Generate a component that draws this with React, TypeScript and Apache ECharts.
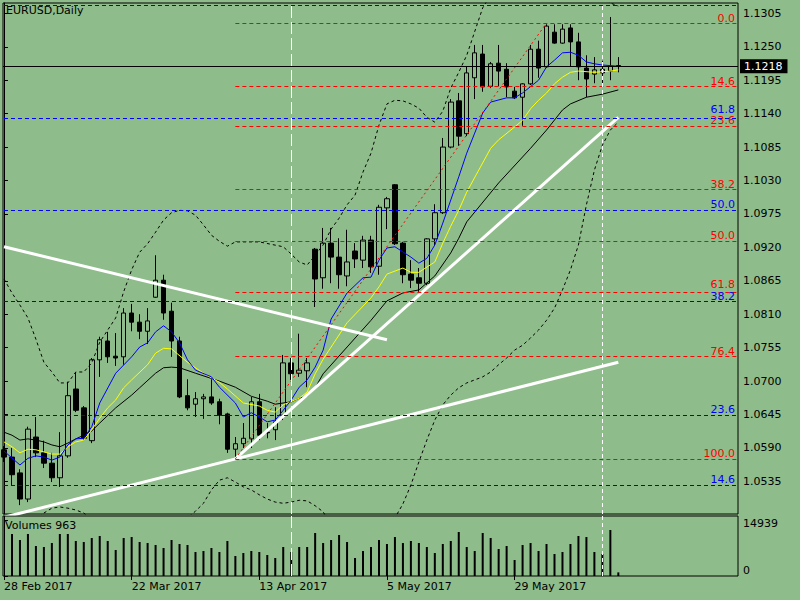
import React, { useEffect, useRef } from 'react';
import * as echarts from 'echarts';

// ---- candles (bar index 0 = 28 Feb 2017, one bar per trading day) ----
const opens = [
  1.0587, 1.0575, 1.0549, 1.0506, 1.0608, 1.0582, 1.0565, 1.0541, 1.0577, 1.0687,
  1.0656, 1.0602, 1.0735, 1.0766, 1.0741, 1.0740, 1.0812, 1.0797, 1.0782, 1.0838,
  1.0866, 1.0815, 1.0766, 1.0676, 1.0662, 1.0671, 1.0674, 1.0666, 1.0646, 1.0588,
  1.0597, 1.0605, 1.0666, 1.0616, 1.0620, 1.0644, 1.0730, 1.0713, 1.0717, 1.0917,
  1.0870, 1.0927, 1.0904, 1.0873, 1.0914, 1.0899, 1.0932, 1.0889, 1.0985, 1.1023,
  1.0927, 1.0876, 1.0870, 1.0861, 1.0934, 1.0977, 1.1085, 1.1161, 1.1107, 1.1199,
  1.1238, 1.1185, 1.1223, 1.1213, 1.1177, 1.1167, 1.1189, 1.1246, 1.1217, 1.1274,
  1.1256, 1.1281, 1.1258, 1.1215, 1.1205, 1.1207, 1.1210, 1.1219,
];
const closes = [
  1.0575, 1.0546, 1.0506, 1.0621, 1.0582, 1.0565, 1.0541, 1.0577, 1.0676, 1.0652,
  1.0606, 1.0735, 1.0768, 1.0740, 1.0738, 1.0812, 1.0797, 1.0782, 1.0799, 1.0866,
  1.0812, 1.0766, 1.0674, 1.0656, 1.0671, 1.0674, 1.0664, 1.0644, 1.0588, 1.0597,
  1.0606, 1.0666, 1.0611, 1.0615, 1.0633, 1.0730, 1.0712, 1.0718, 1.0730, 1.0868,
  1.0927, 1.0904, 1.0875, 1.0896, 1.0901, 1.0932, 1.0888, 1.0986, 1.1000, 1.0926,
  1.0875, 1.0866, 1.0861, 1.0934, 1.0977, 1.1085, 1.1159, 1.1103, 1.1207, 1.1240,
  1.1184, 1.1222, 1.1210, 1.1184, 1.1166, 1.1189, 1.1246, 1.1215, 1.1284, 1.1256,
  1.1279, 1.1258, 1.1217, 1.1197, 1.1212, 1.1213, 1.1218, 1.1218,
];
const lows = [
  1.0567, 1.0529, 1.0496, 1.0501, 1.0575, 1.0557, 1.0534, 1.0526, 1.0574, 1.0649,
  1.0603, 1.0598, 1.0707, 1.0730, 1.0725, 1.0727, 1.0782, 1.0769, 1.0761, 1.0837,
  1.0801, 1.0740, 1.0672, 1.0652, 1.0641, 1.0638, 1.0661, 1.0629, 1.0582, 1.0573,
  1.0590, 1.0590, 1.0603, 1.0606, 1.0603, 1.0636, 1.0702, 1.0707, 1.0690, 1.0822,
  1.0852, 1.0861, 1.0852, 1.0856, 1.0886, 1.0886, 1.0878, 1.0875, 1.0950, 1.0924,
  1.0861, 1.0853, 1.0847, 1.0858, 1.0924, 1.0975, 1.1083, 1.1087, 1.1103, 1.1164,
  1.1176, 1.1182, 1.1185, 1.1167, 1.1164, 1.1120, 1.1187, 1.1199, 1.1215, 1.1255,
  1.1255, 1.1217, 1.1195, 1.1167, 1.1190, 1.1185, 1.1195, 1.1208,
];
const highs = [
  1.0593, 1.0590, 1.0555, 1.0625, 1.0641, 1.0602, 1.0582, 1.0616, 1.0699, 1.0715,
  1.0659, 1.0738, 1.0773, 1.0781, 1.0779, 1.0820, 1.0827, 1.0810, 1.0820, 1.0907,
  1.0875, 1.0829, 1.0773, 1.0703, 1.0682, 1.0679, 1.0703, 1.0671, 1.0648, 1.0608,
  1.0631, 1.0674, 1.0679, 1.0631, 1.0657, 1.0743, 1.0738, 1.0778, 1.0738, 1.0919,
  1.0952, 1.0952, 1.0935, 1.0949, 1.0927, 1.0939, 1.0939, 1.0990, 1.1003, 1.1024,
  1.0929, 1.0899, 1.0886, 1.0935, 1.0991, 1.1100, 1.1164, 1.1174, 1.1217, 1.1253,
  1.1253, 1.1225, 1.1253, 1.1223, 1.1184, 1.1190, 1.1253, 1.1260, 1.1287, 1.1287,
  1.1287, 1.1287, 1.1273, 1.1236, 1.1233, 1.1227, 1.1299, 1.1233,
];
const volumes = [
  null, 11210, 9600, 11210, 8000, 7740, 8800, 11210, 11210, 9340,
  9070, 10140, 10670, 9340, 6940, 10140, 10400, 9070, 8800, 8270,
  7470, 9600, 8540, 8270, 6400, 6670, 7470, 6400, 9340, 5340,
  6140, 6670, 6400, 5600, 4800, 7740, 6400, 7740, 7740, 11470,
  8800, 9600, 10940, 9070, 4800, 6670, 7740, 9600, 8540, 10400,
  8800, 9340, 8800, 7740, 6140, 8540, 9340, 11740, 7740, 6670,
  11470, 10140, 7200, 8000, 4270, 8270, 8800, 6670, 8540, 5870,
  6400, 8540, 10670, 10400, 6400, 5870, 12270, 963,
];

// ---- axes ----
const xTickIndex = [0, 16, 32, 48, 64];
const xTickLabels = ['28 Feb 2017', '22 Mar 2017', '13 Apr 2017', '5 May 2017', '29 May 2017'];
const priceTicks = [1.0535, 1.059, 1.0645, 1.07, 1.0755, 1.081, 1.0865, 1.092, 1.0975, 1.103, 1.1085, 1.114, 1.1195, 1.125, 1.1305];
const volumeTicks = [0, 14939];
const lastPrice = 1.1218;
const lastVolume = 963;

// ---- indicators: [bar, price] ----
const maFast = [
  [0, 1.0585], [2, 1.0562], [3, 1.0573], [4, 1.0577], [5, 1.0575], [6, 1.057], [7, 1.0575], [8, 1.0595], [9, 1.0605], [10, 1.0606],
  [11, 1.0625], [12, 1.0664], [14, 1.0713], [16, 1.074], [17, 1.0756], [18, 1.0763], [19, 1.0781], [20, 1.0791], [21, 1.0781], [22, 1.0763],
  [23, 1.0735], [24, 1.0718], [26, 1.0707], [27, 1.069], [29, 1.0664], [30, 1.0641], [31, 1.0648], [32, 1.0641], [33, 1.0633], [34, 1.0636],
  [35, 1.0652], [36, 1.0669], [37, 1.069], [38, 1.0702], [39, 1.0723], [40, 1.0751], [41, 1.0802], [43, 1.0845], [45, 1.087], [46, 1.0871],
  [47, 1.0899], [48, 1.0919], [49, 1.0921], [51, 1.0904], [52, 1.0894], [53, 1.0902], [54, 1.0924], [55, 1.096], [56, 1.0998], [57, 1.1036],
  [58, 1.1075], [59, 1.1108], [60, 1.1141], [61, 1.1159], [63, 1.1166], [64, 1.1166], [65, 1.1174], [67, 1.1195], [68, 1.1217], [69, 1.1228],
  [70, 1.124], [71, 1.1241], [72, 1.1236], [73, 1.1225], [74, 1.1222], [75, 1.122], [77, 1.1218],
];
const maMid = [
  [0, 1.06], [1, 1.0592], [2, 1.0582], [3, 1.0588], [4, 1.0587], [6, 1.058], [7, 1.058], [8, 1.0592], [9, 1.06], [10, 1.0603],
  [11, 1.062], [12, 1.0639], [13, 1.0656], [14, 1.0669], [15, 1.0689], [16, 1.0702], [18, 1.0727], [19, 1.0746], [20, 1.0754], [21, 1.0753],
  [23, 1.0731], [25, 1.0713], [27, 1.0698], [28, 1.0687], [30, 1.0664], [32, 1.0659], [33, 1.0652], [34, 1.0649], [35, 1.0661], [37, 1.0672],
  [38, 1.0682], [39, 1.0712], [40, 1.0736], [43, 1.0796], [46, 1.0837], [47, 1.0855], [48, 1.0876], [50, 1.0886], [51, 1.0879], [52, 1.0879],
  [54, 1.0896], [55, 1.0927], [56, 1.0955], [57, 1.0981], [58, 1.1011], [61, 1.1083], [62, 1.1097], [64, 1.1118], [65, 1.1129], [66, 1.1148],
  [67, 1.1162], [68, 1.1174], [69, 1.1189], [70, 1.12], [71, 1.1208], [72, 1.121], [74, 1.1208], [76, 1.121], [77, 1.1212],
];
const maSlow = [
  [0, 1.0616], [1, 1.0611], [2, 1.0603], [3, 1.0605], [4, 1.0603], [5, 1.06], [6, 1.0595], [7, 1.0592], [8, 1.0598], [9, 1.0605],
  [10, 1.0611], [11, 1.0618], [12, 1.0631], [14, 1.0656], [16, 1.0677], [17, 1.0689], [19, 1.0713], [20, 1.0722], [21, 1.0723], [22, 1.0722],
  [24, 1.0713], [27, 1.07], [29, 1.069], [31, 1.0675], [32, 1.0671], [33, 1.0667], [34, 1.0662], [36, 1.0666], [37, 1.0672], [38, 1.0675],
  [39, 1.0689], [40, 1.0712], [46, 1.08], [48, 1.0832], [50, 1.0845], [52, 1.085], [54, 1.0873], [56, 1.0911], [57, 1.0935], [58, 1.0962],
  [62, 1.1026], [66, 1.1083], [68, 1.1113], [70, 1.1146], [71, 1.1156], [73, 1.1167], [75, 1.1172], [77, 1.1179],
];
const bbUpper = [
  [0, 1.0868], [1, 1.0845], [2, 1.0825], [3, 1.0804], [4, 1.0769], [5, 1.0731], [6, 1.0715], [7, 1.0697], [8, 1.0697], [9, 1.0715],
  [10, 1.0715], [11, 1.073], [12, 1.0764], [13, 1.0784], [14, 1.0804], [15, 1.0847], [16, 1.0883], [17, 1.0912], [18, 1.0926], [19, 1.0945],
  [20, 1.0965], [21, 1.0977], [22, 1.0981], [23, 1.098], [24, 1.0973], [25, 1.0957], [26, 1.094], [27, 1.093], [28, 1.0922], [29, 1.0929],
  [32, 1.0929], [35, 1.0921], [36, 1.0909], [37, 1.0896], [38, 1.0891], [39, 1.0907], [40, 1.0924], [41, 1.095], [42, 1.0968], [43, 1.099],
  [44, 1.1006], [45, 1.1044], [46, 1.1075], [47, 1.1121], [48, 1.1156], [49, 1.1162], [50, 1.1161], [51, 1.1156], [52, 1.1149], [53, 1.1134],
  [54, 1.1126], [55, 1.1144], [56, 1.1182], [57, 1.1208], [58, 1.1236], [60, 1.1314], [61, 1.1335], [63, 1.1368], [66, 1.1385], [69, 1.1385],
  [72, 1.1368], [74, 1.1343], [76, 1.1322], [77, 1.1317],
];
const bbLower = [
  [0, 1.0439], [2, 1.0455], [4, 1.0472], [5, 1.0483], [6, 1.0491], [7, 1.0493], [8, 1.0491], [9, 1.0488], [10, 1.0483], [11, 1.0472],
  [12, 1.0455], [14, 1.043], [16, 1.0414], [18, 1.0414], [20, 1.043], [22, 1.0455], [23, 1.0475], [24, 1.0486], [25, 1.0499], [26, 1.0521],
  [27, 1.0537], [28, 1.0541], [29, 1.0534], [30, 1.0526], [31, 1.0521], [32, 1.0513], [33, 1.0506], [34, 1.0501], [35, 1.0499], [36, 1.0501],
  [37, 1.0504], [38, 1.0503], [39, 1.0495], [40, 1.0485], [41, 1.0463], [43, 1.0439], [46, 1.043], [48, 1.0455], [49, 1.0475], [50, 1.0498],
  [51, 1.0529], [52, 1.0567], [53, 1.0603], [54, 1.0636], [55, 1.0661], [56, 1.0677], [57, 1.0689], [58, 1.0697], [59, 1.0702], [60, 1.0707],
  [61, 1.0715], [62, 1.0727], [63, 1.0738], [64, 1.0751], [65, 1.0759], [66, 1.0771], [67, 1.0784], [68, 1.08], [69, 1.082], [70, 1.085],
  [71, 1.0883], [72, 1.0924], [73, 1.099], [74, 1.1047], [75, 1.1088], [76, 1.1113], [77, 1.1126],
];

// ---- drawn objects ----
const trendA = [[0, 1.0921], [48, 1.0768]];
const trendB = [[0, 1.0476], [77, 1.0731]];
const trendC = [[29, 1.0572], [77, 1.1134]];
const fibRedAnchors = [[29, 1.0572], [68, 1.1289]];
const fibRedLevels = [0, 14.6, 23.6, 38.2, 50, 61.8, 76.4, 100];
const fibBlueLevels = [14.6, 23.6, 38.2, 50, 61.8, 76.4];
const fibBlueLow = 1.0343;
const fibBlueHigh = 1.162;
const vLineBars = [36, 75];

const FONT = 'DejaVu Sans';
const BG = '#8FBC8B';
const X_MIN = -0.125;
const X_MAX = 92;
const Y_MIN = 1.04814;
const Y_MAX = 1.1322;
const V_MAX = 16006;

export default function App() {
  const ref = useRef<HTMLDivElement>(null);
  useEffect(() => {
    const chart = echarts.init(ref.current as HTMLDivElement, null, { renderer: 'svg' });
    const candles = opens.map((o, i) => [i, o, closes[i], lows[i], highs[i]]);
    const volData = volumes.map((v, i) => [i, v]);
    const [redStart, redEnd] = fibRedAnchors;
    const redTop = redEnd[1];
    const redBottom = redStart[1];
    const txt = { fontFamily: FONT, fontSize: 11 };

    // labels sit just above their level; two crowded pairs are lifted a little so they don't collide
    const fibLabel = (text: string, color: string, lift: number, show = true) => ({
      show, position: 'insideEndTop', distance: [3, 1 + lift], formatter: text, color, lineHeight: 8, ...txt,
    });
    const redFib = fibRedLevels.map((l) => {
      const p = redTop + ((redBottom - redTop) * l) / 100;
      return [
        {
          coord: [redStart[0], p],
          lineStyle: { color: '#FF0000', type: [4, 3], width: 1 },
          label: fibLabel(l.toFixed(1), '#FF0000', l === 61.8 ? 3 : 0),
        },
        { coord: [X_MAX, p] },
      ];
    });
    const blueFib = fibBlueLevels.map((l) => {
      const p = fibBlueLow + ((fibBlueHigh - fibBlueLow) * l) / 100;
      return [
        {
          coord: [0, p],
          lineStyle: { color: '#0000FF', type: [4, 3], width: 1 },
          label: fibLabel(l.toFixed(1), '#0000FF', l === 61.8 ? 4 : 0, l !== 76.4),
        },
        { coord: [X_MAX, p] },
      ];
    });
    const priceLine = [
      { coord: [X_MIN, lastPrice], lineStyle: { color: '#000', type: 'solid', width: 1 }, label: { show: false } },
      { coord: [X_MAX, lastPrice] },
    ];
    const vLines = () =>
      vLineBars.map((b, i) => ({
        xAxis: b,
        lineStyle: { color: '#FFFFFF', width: 1, type: i === 0 ? [12, 4] : [4, 3] },
        label: { show: false },
      }));

    const lineSeries = (data: number[][], color: string, type: any, width = 1, z = 3) => ({
      type: 'line',
      xAxisIndex: 0,
      yAxisIndex: 0,
      data,
      symbol: 'none',
      silent: true,
      z,
      lineStyle: { color, width, type },
    });

    const option: any = {
      animation: false,
      backgroundColor: BG,
      title: [
        { text: 'EURUSD,Daily', left: 6, top: 5, padding: 0, textStyle: { ...txt, color: '#000', fontWeight: 'normal' } },
        { text: 'Volumes ' + lastVolume, left: 5, top: 520, padding: 0, textStyle: { ...txt, color: '#000', fontWeight: 'normal' } },
      ],
      grid: [
        { left: 3, top: 3, right: 62, bottom: 86, show: true, borderColor: '#000', borderWidth: 1, backgroundColor: 'transparent' },
        { left: 3, top: 516, right: 62, bottom: 24, show: true, borderColor: '#000', borderWidth: 1, backgroundColor: 'transparent' },
      ],
      xAxis: [
        {
          type: 'value', gridIndex: 0, min: X_MIN, max: X_MAX,
          axisLine: { show: false }, axisTick: { show: false }, axisLabel: { show: false }, splitLine: { show: false },
        },
        {
          type: 'value', gridIndex: 1, min: X_MIN, max: X_MAX,
          axisLine: { show: false },
          splitLine: { show: false },
          axisTick: { show: true, customValues: xTickIndex, length: 4, lineStyle: { color: '#000' } },
          axisLabel: {
            show: true, customValues: xTickIndex, margin: 5, align: 'left', color: '#000', ...txt,
            formatter: (v: number) => xTickLabels[xTickIndex.indexOf(Math.round(v))] || '',
          },
        },
      ],
      yAxis: [
        {
          type: 'value', gridIndex: 0, position: 'right', min: Y_MIN, max: Y_MAX,
          axisLine: { show: true, lineStyle: { color: '#000' } },
          splitLine: { show: false },
          axisTick: { show: true, customValues: priceTicks, length: 4, lineStyle: { color: '#000' } },
          axisLabel: { show: true, customValues: priceTicks, margin: 5, color: '#000', ...txt, formatter: (v: number) => v.toFixed(4) },
        },
        {
          type: 'value', gridIndex: 1, position: 'right', min: 0, max: V_MAX,
          axisLine: { show: true, lineStyle: { color: '#000' } },
          splitLine: { show: false },
          axisTick: { show: true, customValues: volumeTicks, length: 4, lineStyle: { color: '#000' } },
          axisLabel: {
            show: true, customValues: volumeTicks, margin: 5, color: '#000', ...txt,
            formatter: (v: number) => (v === 0 ? '{bot|0}' : '{top|' + v + '}'),
            rich: { bot: { ...txt, color: '#000', padding: [0, 0, 12, 0] }, top: { ...txt, color: '#000', padding: [8, 0, 0, 0] } },
          },
        },
        {
          type: 'value', gridIndex: 0, position: 'right', min: Y_MIN, max: Y_MAX,
          axisLine: { show: false }, axisTick: { show: false }, splitLine: { show: false },
          axisLabel: {
            show: true, customValues: [lastPrice], margin: 2, color: '#FFFFFF', backgroundColor: '#000',
            padding: [2, 5, 1, 4], ...txt, formatter: (v: number) => v.toFixed(4),
          },
        },
      ],
      series: [
        {
          type: 'candlestick',
          xAxisIndex: 0,
          yAxisIndex: 0,
          data: candles,
          barWidth: 5,
          silent: true,
          z: 2,
          itemStyle: {
            color: 'rgba(0,0,0,0)', color0: '#000', borderColor: '#000', borderColor0: '#000', borderColorDoji: '#000', borderWidth: 1,
          },
        },
        lineSeries(bbUpper, '#000', [3, 3]),
        lineSeries(bbLower, '#000', [3, 3]),
        lineSeries(maSlow, '#000', 'solid'),
        lineSeries(maMid, '#FFFF00', 'solid'),
        lineSeries(maFast, '#0000FF', 'solid'),
        lineSeries(trendA, '#FFFFFF', 'solid', 3, 4),
        lineSeries(trendB, '#FFFFFF', 'solid', 3, 4),
        lineSeries(trendC, '#FFFFFF', 'solid', 3, 4),
        {
          ...lineSeries(fibRedAnchors, '#FF0000', [2, 3], 1, 4),
          markLine: { silent: true, symbol: ['none', 'none'], data: [...redFib, ...blueFib, priceLine, ...vLines()] },
        },
        {
          type: 'bar',
          xAxisIndex: 1,
          yAxisIndex: 1,
          data: volData,
          barWidth: 2,
          silent: true,
          itemStyle: { color: '#000' },
          markLine: { silent: true, symbol: ['none', 'none'], data: vLines() },
        },
      ],
    };
    chart.setOption(option);
    return () => chart.dispose();
  }, []);
  return <div ref={ref} style={{ position: 'fixed', left: 0, top: 0, width: 800, height: 600 }} />;
}
